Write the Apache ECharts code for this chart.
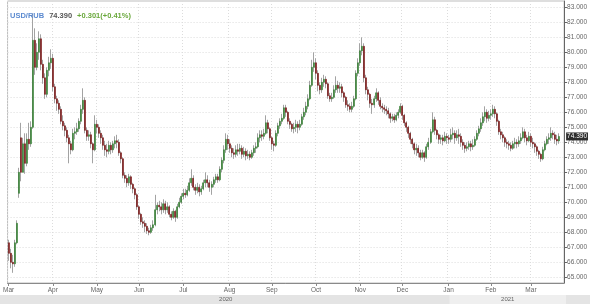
<!DOCTYPE html>
<html><head><meta charset="utf-8">
<script src="https://cdn.jsdelivr.net/npm/echarts@6/dist/echarts.min.js"></script>
<style>html,body{margin:0;padding:0;background:#fff}#c{width:590px;height:304px}</style>
</head><body><div id="c"></div>
<script>
const opens=[
67.3,66.6,66.0,65.9,67.3,70.6,74.3,72.0,73.9,72.6,
74.2,73.9,75.0,80.8,79.0,80.0,80.9,79.2,78.3,77.2,
78.8,79.3,79.6,77.7,76.9,76.6,76.2,75.4,75.1,74.8,
74.3,73.9,73.5,74.6,74.7,74.9,75.4,76.2,76.8,74.8,
74.4,74.5,73.9,73.5,75.2,75.0,74.6,74.3,73.8,73.5,
73.4,73.8,73.5,73.9,74.1,74.0,73.3,72.9,71.8,71.6,
71.3,71.7,71.2,70.9,70.5,69.7,69.2,68.7,68.6,68.4,
68.1,68.0,68.3,68.5,69.5,69.8,69.7,69.5,69.9,69.5,
69.7,69.2,69.0,69.4,69.0,69.7,70.0,70.4,70.6,70.5,
70.8,71.3,71.6,71.0,70.8,71.0,70.7,70.9,71.3,71.5,
71.3,71.0,71.2,71.5,71.7,71.5,72.2,72.8,73.5,74.2,
73.9,73.6,73.3,73.2,73.5,73.4,73.6,73.2,73.4,73.1,
73.2,73.0,73.3,73.6,73.7,74.3,74.5,74.4,74.6,75.3,
74.9,74.3,73.9,73.8,74.6,75.1,75.4,75.6,76.3,76.0,
75.4,75.2,74.9,75.0,75.2,75.0,75.2,75.7,76.0,76.4,
76.9,77.8,79.0,79.3,78.6,77.8,77.5,78.0,78.2,77.9,
77.1,76.9,77.0,77.5,77.8,77.6,77.7,77.3,77.0,76.5,
76.4,76.2,76.4,76.9,78.6,79.3,80.1,80.4,78.3,77.5,
77.2,76.6,76.5,76.9,77.3,76.8,76.4,76.3,76.2,76.1,
75.9,75.6,75.7,75.5,75.8,76.0,76.4,75.8,75.3,75.0,
74.6,74.2,73.9,73.5,73.6,73.3,73.0,73.3,73.0,73.7,
74.0,74.7,75.5,74.8,74.5,74.2,74.3,74.1,74.4,74.3,
74.2,74.5,74.6,74.3,74.5,74.4,74.0,73.8,73.6,73.7,
73.9,73.7,73.8,74.2,74.6,74.9,75.3,75.7,76.0,75.6,
75.8,75.9,76.2,75.9,75.4,74.7,74.5,74.3,74.0,73.9,
73.8,73.6,73.9,74.0,73.9,74.1,74.3,74.7,74.3,74.1,
74.4,74.0,73.9,73.7,73.4,73.2,72.9,73.5,73.9,74.2,
74.3,74.6,74.5,74.2,74.09];
const closes=[
66.6,66.0,65.9,67.3,68.6,72.0,72.0,73.9,72.6,74.2,
73.9,75.0,80.8,79.0,80.0,80.9,79.2,78.3,77.2,78.8,
79.3,79.6,77.7,76.9,76.6,76.2,75.4,75.1,74.8,74.3,
73.9,73.5,74.6,74.7,74.9,75.4,76.2,76.8,74.8,74.4,
74.5,73.9,73.5,75.2,75.0,74.6,74.3,73.8,73.5,73.4,
73.8,73.5,73.9,74.1,74.0,73.3,72.9,71.8,71.6,71.3,
71.7,71.2,70.9,70.5,69.7,69.2,68.7,68.6,68.4,68.1,
68.0,68.3,68.5,69.5,69.8,69.7,69.5,69.9,69.5,69.7,
69.2,69.0,69.4,69.0,69.7,70.0,70.4,70.6,70.5,70.8,
71.3,71.6,71.0,70.8,71.0,70.7,70.9,71.3,71.5,71.3,
71.0,71.2,71.5,71.7,71.5,72.2,72.8,73.5,74.2,73.9,
73.6,73.3,73.2,73.5,73.4,73.6,73.2,73.4,73.1,73.2,
73.0,73.3,73.6,73.7,74.3,74.5,74.4,74.6,75.3,74.9,
74.3,73.9,73.8,74.6,75.1,75.4,75.6,76.3,76.0,75.4,
75.2,74.9,75.0,75.2,75.0,75.2,75.7,76.0,76.4,76.9,
77.8,79.0,79.3,78.6,77.8,77.5,78.0,78.2,77.9,77.1,
76.9,77.0,77.5,77.8,77.6,77.7,77.3,77.0,76.5,76.4,
76.2,76.4,76.9,78.6,79.3,80.1,80.4,78.3,77.5,77.2,
76.6,76.5,76.9,77.3,76.8,76.4,76.3,76.2,76.1,75.9,
75.6,75.7,75.5,75.8,76.0,76.4,75.8,75.3,75.0,74.6,
74.2,73.9,73.5,73.6,73.3,73.0,73.3,73.0,73.7,74.0,
74.7,75.5,74.8,74.5,74.2,74.3,74.1,74.4,74.3,74.2,
74.5,74.6,74.3,74.5,74.4,74.0,73.8,73.6,73.7,73.9,
73.7,73.8,74.2,74.6,74.9,75.3,75.7,76.0,75.6,75.8,
75.9,76.2,75.9,75.4,74.7,74.5,74.3,74.0,73.9,73.8,
73.6,73.9,74.0,73.9,74.1,74.3,74.7,74.3,74.1,74.4,
74.0,73.9,73.7,73.4,73.2,72.9,73.5,73.9,74.2,74.3,
74.6,74.5,74.2,74.09,74.39];
const lows=[
66.1,65.6,65.3,65.7,67.2,70.3,71.4,72.0,71.9,72.4,
73.5,73.7,74.9,78.5,78.8,79.5,78.8,77.9,76.9,77.0,
78.4,78.9,77.4,76.6,76.1,75.9,75.2,74.8,74.4,74.0,
72.6,73.2,73.4,74.2,74.5,74.7,75.2,75.9,74.6,74.1,
74.1,73.6,72.6,73.4,74.6,74.3,73.9,73.5,73.1,73.0,
73.2,73.2,73.3,73.6,73.6,73.1,72.6,71.6,71.3,71.0,
71.1,70.9,70.6,70.2,69.5,68.9,68.5,68.3,68.0,67.9,
67.8,67.9,68.1,68.4,69.2,69.4,69.2,69.3,69.2,69.3,
69.0,68.8,68.9,68.7,68.9,69.6,69.9,70.2,70.3,70.4,
70.7,71.1,70.8,70.5,70.6,70.4,70.5,70.8,71.0,71.0,
70.7,70.5,71.0,71.3,71.3,71.4,72.0,72.6,73.3,73.5,
73.3,73.0,72.9,73.0,73.1,73.2,72.9,73.0,72.8,72.9,
72.8,72.9,73.1,73.3,73.6,74.0,74.1,74.2,74.5,74.6,
74.1,73.5,73.4,73.7,74.4,74.9,75.2,75.5,75.7,75.2,
74.9,74.7,74.6,74.7,74.6,74.8,75.1,75.5,75.8,76.2,
76.8,77.7,78.7,78.2,77.4,77.2,77.3,77.7,77.6,76.9,
76.7,76.7,76.9,77.3,77.3,77.3,77.0,76.7,76.3,76.1,
76.0,76.0,76.3,76.8,78.4,79.1,79.8,78.0,77.2,76.8,
76.3,75.9,76.3,76.7,76.5,76.2,76.0,75.9,75.8,75.6,
75.3,75.4,75.3,75.4,75.6,75.9,75.5,75.1,74.7,74.3,
73.9,73.6,73.2,73.1,73.0,72.8,72.9,72.7,72.9,73.5,
73.9,74.6,74.5,74.2,73.9,73.9,73.8,74.0,73.9,73.9,
74.0,74.2,73.9,74.1,73.9,73.7,73.5,73.3,73.4,73.5,
73.4,73.5,73.7,74.1,74.4,74.7,75.1,75.4,75.3,75.4,
75.5,75.7,75.6,75.1,74.5,74.2,74.0,73.7,73.6,73.5,
73.4,73.5,73.6,73.6,73.7,73.9,74.2,74.0,73.8,74.0,
73.7,73.6,73.3,73.1,72.9,72.7,72.8,73.4,73.8,73.9,
74.1,74.2,73.9,73.8,73.9];
const highs=[
67.5,66.9,66.5,67.5,68.8,72.3,75.3,74.3,74.6,74.6,
75.3,75.4,82.6,81.6,80.6,81.4,81.2,79.5,78.6,79.0,
79.7,80.2,79.9,77.9,77.1,76.8,76.4,75.8,75.3,75.0,
74.5,74.1,74.9,75.0,75.3,75.6,76.5,77.6,77.0,75.0,
74.8,74.7,74.0,75.8,75.5,75.2,74.8,74.5,74.1,73.9,
74.1,74.0,74.1,74.4,74.5,74.2,73.4,73.0,72.0,71.8,
71.9,71.8,71.3,71.0,70.6,69.8,69.3,69.0,68.8,68.6,
68.3,68.5,68.8,70.5,70.0,70.1,70.0,70.2,70.1,70.0,
69.8,69.4,69.6,69.5,69.9,70.3,70.6,70.9,70.9,71.1,
71.6,72.2,71.8,71.2,71.3,71.2,71.1,71.5,72.0,71.8,
71.5,71.4,71.7,71.9,71.9,72.4,73.0,73.8,74.6,74.5,
74.2,73.8,73.6,73.8,73.9,73.9,73.8,73.7,73.6,73.5,
73.4,73.5,73.8,74.0,74.6,74.8,74.8,74.9,75.8,75.5,
75.0,74.4,74.1,74.8,75.3,75.6,75.9,76.5,76.5,76.1,
75.6,75.3,75.3,75.5,75.4,75.5,75.9,76.3,76.7,77.2,
78.1,79.5,80.0,79.6,78.8,78.0,78.3,78.5,78.4,78.0,
77.3,77.3,77.8,78.4,78.1,78.0,77.9,77.4,77.1,76.8,
76.6,76.7,77.1,78.8,79.6,80.6,81.0,80.6,78.5,77.7,
77.3,76.9,77.1,77.6,77.4,77.0,76.6,76.5,76.4,76.3,
76.0,75.9,75.9,76.0,76.2,76.6,76.5,75.9,75.4,75.1,
74.7,74.3,74.0,73.9,73.8,73.5,73.5,73.4,73.9,74.3,
74.9,76.0,75.7,74.9,74.6,74.5,74.5,74.7,74.6,74.5,
74.9,75.0,74.8,74.8,74.9,74.6,74.2,74.0,74.0,74.1,
74.1,74.2,74.4,74.8,75.1,75.6,76.0,76.4,76.2,76.1,
76.2,76.5,76.4,76.0,75.5,74.9,74.7,74.4,74.2,74.1,
74.0,74.1,74.3,74.2,74.4,74.6,75.0,74.9,74.5,74.7,
74.6,74.3,74.0,73.8,73.5,73.3,73.7,74.1,74.4,74.6,
75.0,74.8,74.7,74.5,74.6];
const yTicks=[65,66,67,68,69,70,71,72,73,74,75,76,77,78,79,80,81,82,83];
const monthNames=['Jan','Feb','Mar','Apr','May','Jun','Jul','Aug','Sep','Oct','Nov','Dec'];
const lastPrice=74.39;

// trading-day categories (weekdays) from 2020-03-02, two empty slots at the end
const categories=[];
(function(){const d=new Date(Date.UTC(2020,2,2));while(categories.length<277){const w=d.getUTCDay();if(w!==0&&w!==6)categories.push(d.toISOString().slice(0,10));d.setUTCDate(d.getUTCDate()+1);}})();
const isMonthStart=i=>i===0||categories[i].slice(5,7)!==categories[i-1].slice(5,7);
const janIdx=categories.indexOf('2021-01-01');

const ohlc=opens.map((o,i)=>[o,closes[i],lows[i],highs[i]]);
const bodies=opens.map((o,i)=>[o,closes[i],Math.min(o,closes[i]),Math.max(o,closes[i])]);

const chart=echarts.init(document.getElementById('c'),null,{renderer:'canvas'});
const FONT='Liberation Sans';
chart.setOption({
  animation:false,
  backgroundColor:'#fff',
  textStyle:{fontFamily:FONT},
  title:{
    left:5,top:2,
    text:'{a|USD/RUB} {b|74.390} {c|+0.301(+0.41%)}',
    textStyle:{rich:{
      a:{color:'#5b8ad0',fontSize:7.5,fontWeight:'bold',fontFamily:FONT},
      b:{color:'#555',fontSize:7.5,fontWeight:'bold',fontFamily:FONT},
      c:{color:'#6aa83c',fontSize:7.5,fontWeight:'bold',fontFamily:FONT}
    }}
  },
  graphic:[{type:'rect',shape:{x:0,y:295,width:590,height:9},style:{fill:'#e4e4e4'},z:-1}],
  grid:[
    {left:1,right:23,top:1,bottom:21,show:true,borderColor:'#bdbdbd',borderWidth:1},
    {left:1,right:23,top:295,height:9}
  ],
  xAxis:[{
    type:'category',data:categories,gridIndex:0,boundaryGap:true,
    axisLine:{lineStyle:{color:'#8a8a8a'}},
    axisTick:{show:true,alignWithLabel:true,length:3,interval:i=>isMonthStart(i),lineStyle:{color:'#8a8a8a'}},
    axisLabel:{interval:i=>isMonthStart(i),formatter:v=>monthNames[+v.slice(5,7)-1],fontSize:6.5,color:'#666',margin:4,fontFamily:FONT},
    splitLine:{show:true,interval:i=>isMonthStart(i),lineStyle:{color:'#dcdcdc',type:[1,2]}}
  },{
    type:'category',data:categories,gridIndex:1,boundaryGap:true,show:false
  }],
  yAxis:[{
    type:'value',position:'right',gridIndex:0,min:64.62,max:83.42,
    axisLine:{show:true,lineStyle:{color:'#666'}},
    axisTick:{show:true,length:3,customValues:yTicks,lineStyle:{color:'#666'}},
    axisLabel:{customValues:yTicks,formatter:v=>v.toFixed(3),fontSize:6.5,color:'#666',margin:3,fontFamily:FONT},
    splitLine:{show:true,lineStyle:{color:'#dcdcdc',type:[1,2]}}
  },{
    type:'value',gridIndex:1,min:0,max:1,show:false
  }],
  series:[{
    type:'candlestick',name:'wick',xAxisIndex:0,yAxisIndex:0,data:ohlc,barWidth:1,
    itemStyle:{color:'#a3a3a3',color0:'#a3a3a3',borderColor:'#a3a3a3',borderColor0:'#a3a3a3',borderWidth:1},
    silent:true
  },{
    type:'candlestick',name:'body',xAxisIndex:0,yAxisIndex:0,data:bodies,barWidth:1.5,
    itemStyle:{color:'#44923f',color0:'#8c1f1f',borderColor:'#337a30',borderColor0:'#741414',borderWidth:0.6},
    markLine:{silent:true,symbol:'none',
      lineStyle:{color:'rgba(0,0,0,0)',width:0,opacity:1},
      label:{show:true,position:'end',distance:2,formatter:()=>lastPrice.toFixed(3),backgroundColor:'#2e2e2e',color:'#fff',fontSize:6.5,padding:[1,1,0,1],fontFamily:FONT},
      data:[{yAxis:lastPrice}]}
  },{
    type:'line',xAxisIndex:1,yAxisIndex:1,data:[],
    markArea:{silent:true,
      label:{position:'inside',fontSize:6,color:'#666',fontFamily:FONT},
      data:[
        [{name:'2020',xAxis:categories[0],itemStyle:{color:'#e4e4e4'}},{xAxis:categories[janIdx]}],
        [{name:'2021',xAxis:categories[janIdx],itemStyle:{color:'#efefef'}},{xAxis:categories[categories.length-1]}]
      ]}
  }]
});
</script></body></html>
